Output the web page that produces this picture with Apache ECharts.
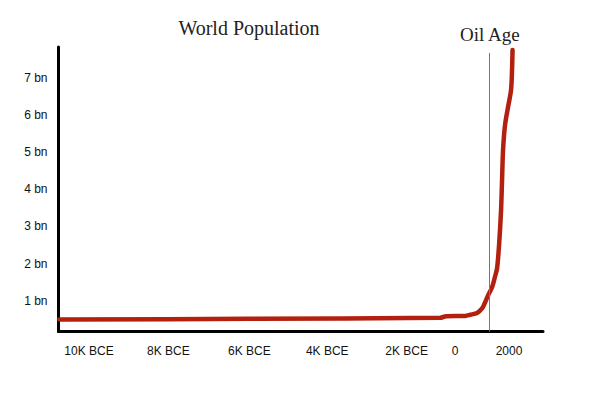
<!DOCTYPE html>
<html>
<head>
<meta charset="utf-8">
<style>html,body{margin:0;padding:0;background:#fff}#c{width:600px;height:398px}</style>
<script src="https://cdn.jsdelivr.net/npm/echarts@6/dist/echarts.min.js"></script>
</head>
<body>
<div id="c"></div>
<script>
// Tick labels of the (hand-drawn, non-uniform) time axis
const tickYears = [-10000, -8000, -6000, -4000, -2000, 0, 2000];
const tickLabels = ['10K BCE', '8K BCE', '6K BCE', '4K BCE', '2K BCE', '0', '2000'];
// where each tick sits on the drawn axis (0 = left end, 485 = right end)
const tickAxisPos = [30.5, 110, 191, 269, 348.5, 397, 451];

// World population curve (years, billions) as drawn
const years = [-10750, -6000, -620, -370, 370, 560, 815, 1000, 1111, 1222, 1370, 1481, 1556, 1630, 1704, 1741, 1778, 1852, 1963, 2074, 2111, 2130];
const popBn = [0.49, 0.51, 0.54, 0.58, 0.59, 0.62, 0.67, 0.79, 0.95, 1.14, 1.36, 1.65, 1.87, 2.49, 3.43, 4.24, 5.05, 5.73, 6.21, 6.67, 7.21, 7.75];

const yTicks = [1, 2, 3, 4, 5, 6, 7];
const oilAgeYear = 1285;
const oilAgeTop = 7.67;

function warp(year) {
  let i = 0;
  if (year >= tickYears[tickYears.length - 2]) i = tickYears.length - 2;
  else {
    for (let k = 0; k < tickYears.length - 1; k++) {
      if (year < tickYears[k + 1]) { i = k; break; }
    }
  }
  const y0 = tickYears[i], y1 = tickYears[i + 1];
  const p0 = tickAxisPos[i], p1 = tickAxisPos[i + 1];
  return p0 + (year - y0) / (y1 - y0) * (p1 - p0);
}

const curve = years.map((y, i) => [warp(y), popBn[i]]);
const yMin = 0.17, yMax = 7.83;

const chart = echarts.init(document.getElementById('c'), null, { renderer: 'svg' });
chart.setOption({
  animation: false,
  graphic: [{
    type: 'text', x: 249, y: 28,
    style: {
      text: 'World Population', textAlign: 'center', textVerticalAlign: 'middle',
      fontFamily: 'Liberation Serif', fontSize: 20, fill: '#222'
    }
  }],
  grid: { left: 58.5, right: 57, top: 47, bottom: 66.5 },
  xAxis: {
    type: 'value', min: 0, max: 485,
    axisLine: { show: true, lineStyle: { color: '#000', width: 3 } },
    axisTick: { show: false },
    splitLine: { show: false },
    axisLabel: {
      customValues: tickAxisPos,
      formatter: function (v) {
        let best = 0;
        for (let i = 0; i < tickAxisPos.length; i++) if (Math.abs(tickAxisPos[i] - v) < Math.abs(tickAxisPos[best] - v)) best = i;
        return tickLabels[best];
      },
      margin: 13, color: '#111', fontSize: 12, fontFamily: 'Liberation Sans'
    }
  },
  yAxis: {
    type: 'value', min: yMin, max: yMax,
    axisLine: { show: true, lineStyle: { color: '#000', width: 3 } },
    axisTick: { show: false },
    splitLine: { show: false },
    axisLabel: {
      customValues: yTicks,
      formatter: v => v + ' bn',
      margin: 11, color: '#111', fontSize: 12, fontFamily: 'Liberation Sans'
    }
  },
  series: [
    {
      type: 'line', z: 1, data: [], silent: true,
      markLine: {
        symbol: 'none', silent: true,
        lineStyle: { color: '#777', width: 1, type: 'solid' },
        label: {
          show: true, position: 'end', formatter: 'Oil Age', distance: 9,
          fontFamily: 'Liberation Serif', fontSize: 19, color: '#222'
        },
        data: [[{ coord: [warp(oilAgeYear), yMin] }, { coord: [warp(oilAgeYear), oilAgeTop] }]]
      }
    },
    {
      type: 'line', z: 3, data: curve, smooth: 0.3, showSymbol: false,
      lineStyle: { color: '#b3200f', width: 4.5, cap: 'round' }
    }
  ]
});
</script>
</body>
</html>
